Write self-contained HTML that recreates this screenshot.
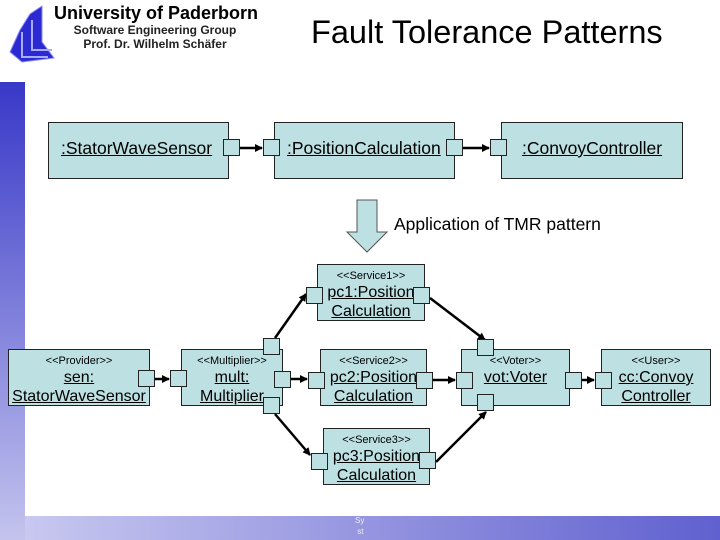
<!DOCTYPE html>
<html><head><meta charset="utf-8"><style>
body{margin:0;width:720px;height:540px;overflow:hidden;background:#fff;font-family:"Liberation Sans",sans-serif;position:relative}
.a{position:absolute}
.b{position:absolute;background:#bde0e3;border:1px solid #222;box-sizing:border-box;text-align:center;color:#000}
.p{position:absolute;width:17px;height:17px;background:#bde0e3;border:1px solid #222;box-sizing:border-box}
u{text-decoration:underline}
.st{font-size:11px;line-height:13px;margin-top:5px}
.nm{font-size:16px;line-height:19px}
</style></head><body>
<div class="a" style="left:0;top:82px;width:25px;height:458px;background:linear-gradient(#3838c8,#c4c4ee)"></div>
<div class="a" style="left:25px;top:516px;width:695px;height:24px;background:linear-gradient(90deg,#c8c8f0,#6060d0)"></div>
<div class="a" style="left:355px;top:515px;font-size:8px;color:#eee;line-height:11px">Sy<br>&nbsp;st</div>
<svg class="a" style="left:8px;top:2px" width="50" height="64" viewBox="0 0 50 64">
<polygon points="2,50 12,28 22,12 34,4 34,40 46,56 14,60" fill="#2a2ad0" stroke="#88f" stroke-width="1"/>
<polyline points="14,30 14,55 40,55" fill="none" stroke="#aaf" stroke-width="2"/>
<polyline points="24,18 24,48 44,48" fill="none" stroke="#aaf" stroke-width="2"/>
</svg>
<div class="a" style="left:54px;top:3px;font-size:18px;font-weight:bold">University of Paderborn</div>
<div class="a" style="left:60px;top:23px;width:190px;text-align:center;font-size:12px;line-height:14px;font-weight:bold;color:#222">Software Engineering Group<br>Prof. Dr. Wilhelm Schäfer</div>
<div class="a" style="left:311px;top:14px;font-size:32.5px">Fault Tolerance Patterns</div>

<svg class="a" style="left:0;top:0" width="720" height="540">
<defs><marker id="m" markerWidth="8" markerHeight="8" refX="7" refY="4" orient="auto" markerUnits="userSpaceOnUse"><path d="M0,0L8,4L0,8z" fill="#000"/></marker></defs>
<g stroke="#000" stroke-width="2.5" marker-end="url(#m)">
<line x1="240" y1="148" x2="262" y2="148"/>
<line x1="463" y1="148" x2="489" y2="148"/>
<line x1="155" y1="379" x2="169" y2="379"/>
<line x1="291" y1="379" x2="307" y2="379"/>
<line x1="433" y1="380" x2="455" y2="380"/>
<line x1="582" y1="380" x2="594" y2="380"/>
<line x1="275" y1="338" x2="306" y2="294"/>
<line x1="275" y1="414" x2="310" y2="455"/>
<line x1="430" y1="298" x2="485" y2="340"/>
<line x1="436" y1="462" x2="486" y2="412"/>
</g>
<polygon points="357,200 377,200 377,232 387,232 367,252 347,232 357,232" fill="#bde0e3" stroke="#555" stroke-width="1"/>
</svg>
<div class="a" style="left:394px;top:214px;font-size:17.5px">Application of TMR pattern</div>

<div class="b" style="left:48px;top:122px;width:181px;height:57px;text-align:left;padding:15px 0 0 12px;font-size:17.5px;white-space:nowrap"><u>:StatorWaveSensor</u></div>
<div class="b" style="left:274px;top:122px;width:181px;height:57px;text-align:left;padding:15px 0 0 12px;font-size:17.5px;white-space:nowrap"><u>:PositionCalculation</u></div>
<div class="b" style="left:501px;top:122px;width:182px;height:57px;padding-top:15px;font-size:17.5px"><u>:ConvoyController</u></div>
<div class="p" style="left:223px;top:139px"></div>
<div class="p" style="left:263px;top:139px"></div>
<div class="p" style="left:446px;top:139px"></div>
<div class="p" style="left:490px;top:139px"></div>

<div class="b" style="left:8px;top:349px;width:142px;height:57px"><div class="st">&lt;&lt;Provider&gt;&gt;</div><div class="nm"><u>sen:<br>StatorWaveSensor</u></div></div>
<div class="b" style="left:181px;top:349px;width:102px;height:57px"><div class="st">&lt;&lt;Multiplier&gt;&gt;</div><div class="nm"><u>mult:<br>Multiplier</u></div></div>
<div class="b" style="left:317px;top:264px;width:108px;height:57px"><div class="st">&lt;&lt;Service1&gt;&gt;</div><div class="nm"><u>pc1:Position<br>Calculation</u></div></div>
<div class="b" style="left:320px;top:349px;width:107px;height:57px"><div class="st">&lt;&lt;Service2&gt;&gt;</div><div class="nm"><u>pc2:Position<br>Calculation</u></div></div>
<div class="b" style="left:323px;top:428px;width:107px;height:57px"><div class="st">&lt;&lt;Service3&gt;&gt;</div><div class="nm"><u>pc3:Position<br>Calculation</u></div></div>
<div class="b" style="left:461px;top:349px;width:109px;height:57px"><div class="st">&lt;&lt;Voter&gt;&gt;</div><div class="nm"><u>vot:Voter</u></div></div>
<div class="b" style="left:601px;top:349px;width:110px;height:57px"><div class="st">&lt;&lt;User&gt;&gt;</div><div class="nm"><u>cc:Convoy<br>Controller</u></div></div>

<div class="p" style="left:138px;top:370px"></div>
<div class="p" style="left:170px;top:370px"></div>
<div class="p" style="left:274px;top:371px"></div>
<div class="p" style="left:263px;top:338px"></div>
<div class="p" style="left:263px;top:397px"></div>
<div class="p" style="left:306px;top:287px"></div>
<div class="p" style="left:413px;top:287px"></div>
<div class="p" style="left:308px;top:372px"></div>
<div class="p" style="left:416px;top:372px"></div>
<div class="p" style="left:311px;top:453px"></div>
<div class="p" style="left:419px;top:452px"></div>
<div class="p" style="left:456px;top:372px"></div>
<div class="p" style="left:477px;top:339px"></div>
<div class="p" style="left:477px;top:394px"></div>
<div class="p" style="left:565px;top:372px"></div>
<div class="p" style="left:595px;top:372px"></div>
</body></html>
